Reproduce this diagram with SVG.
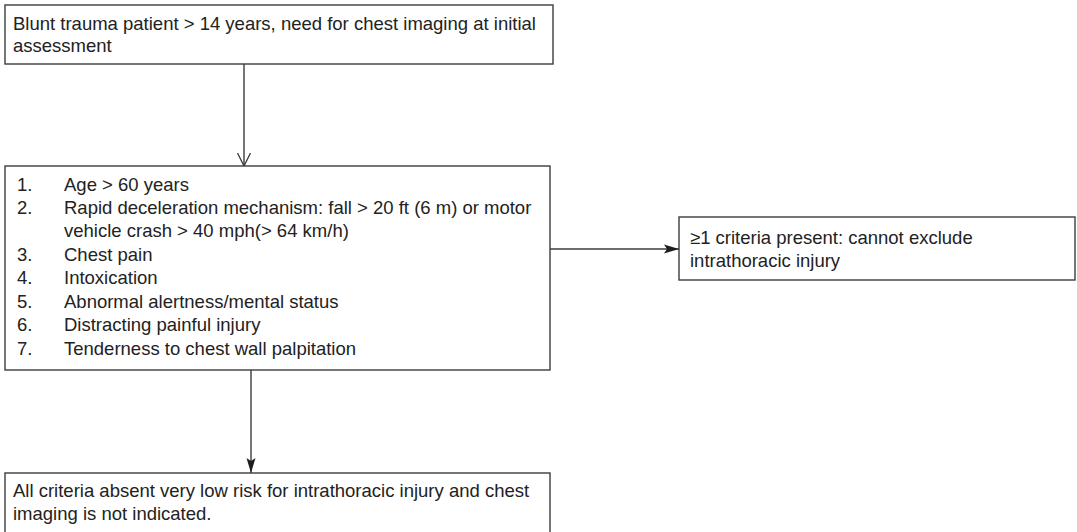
<svg xmlns="http://www.w3.org/2000/svg" width="1077" height="532" viewBox="0 0 1077 532">
  <style>
    .box { fill: #ffffff; stroke: #3c3c3c; stroke-width: 1.4; }
    .txt { font-family: "Liberation Sans", Arial, sans-serif; font-size: 18.5px; fill: #222222; }
    .edge { fill: none; stroke: #3c3c3c; stroke-width: 1.4; }
  </style>
  <defs>
    <marker id="open" viewBox="0 0 14 14" refX="13" refY="7" markerWidth="14" markerHeight="14" markerUnits="userSpaceOnUse" orient="auto">
      <path d="M0,0.5 L13,7 L0,13.5" fill="none" stroke="#3c3c3c" stroke-width="1.3"/>
    </marker>
    <marker id="solid" viewBox="0 0 16 10" refX="15" refY="5" markerWidth="16" markerHeight="10" markerUnits="userSpaceOnUse" orient="auto">
      <path d="M0,0.5 L15,5 L0,9.5 L3,5 Z" fill="#1e1e1e"/>
    </marker>
  </defs>

  <rect width="1077" height="532" fill="#ffffff"/>

  <g id="connectors">
    <line class="edge" x1="244" y1="64" x2="244" y2="166" marker-end="url(#open)"/>
    <line class="edge" x1="550" y1="249" x2="679" y2="249" marker-end="url(#solid)"/>
    <line class="edge" x1="251" y1="370" x2="251" y2="473" marker-end="url(#solid)"/>
  </g>

  <g id="start">
    <rect class="box" x="5" y="5" width="548" height="59"/>
    <text class="txt" x="13" y="30">Blunt trauma patient &gt; 14 years, need for chest imaging at initial</text>
    <text class="txt" x="13" y="52">assessment</text>
  </g>

  <g id="criteria">
    <rect class="box" x="5" y="166" width="545" height="204"/>
    <text class="txt" x="17" y="191">1.</text>
    <text class="txt" x="64" y="191">Age &gt; 60 years</text>
    <text class="txt" x="17" y="214">2.</text>
    <text class="txt" x="64" y="214">Rapid deceleration mechanism: fall &gt; 20 ft (6 m) or motor</text>
    <text class="txt" x="64" y="237">vehicle crash &gt; 40 mph(&gt; 64 km/h)</text>
    <text class="txt" x="17" y="261">3.</text>
    <text class="txt" x="64" y="261">Chest pain</text>
    <text class="txt" x="17" y="284">4.</text>
    <text class="txt" x="64" y="284">Intoxication</text>
    <text class="txt" x="17" y="308">5.</text>
    <text class="txt" x="64" y="308">Abnormal alertness/mental status</text>
    <text class="txt" x="17" y="331">6.</text>
    <text class="txt" x="64" y="331">Distracting painful injury</text>
    <text class="txt" x="17" y="355">7.</text>
    <text class="txt" x="64" y="355">Tenderness to chest wall palpitation</text>
  </g>

  <g id="positive">
    <rect class="box" x="679" y="217" width="396" height="63"/>
    <text class="txt" x="690" y="244">≥1 criteria present: cannot exclude</text>
    <text class="txt" x="690" y="267">intrathoracic injury</text>
  </g>

  <g id="negative">
    <rect class="box" x="5" y="473" width="545" height="70"/>
    <text class="txt" x="13" y="497">All criteria absent very low risk for intrathoracic injury and chest</text>
    <text class="txt" x="13" y="520">imaging is not indicated.</text>
  </g>
</svg>
